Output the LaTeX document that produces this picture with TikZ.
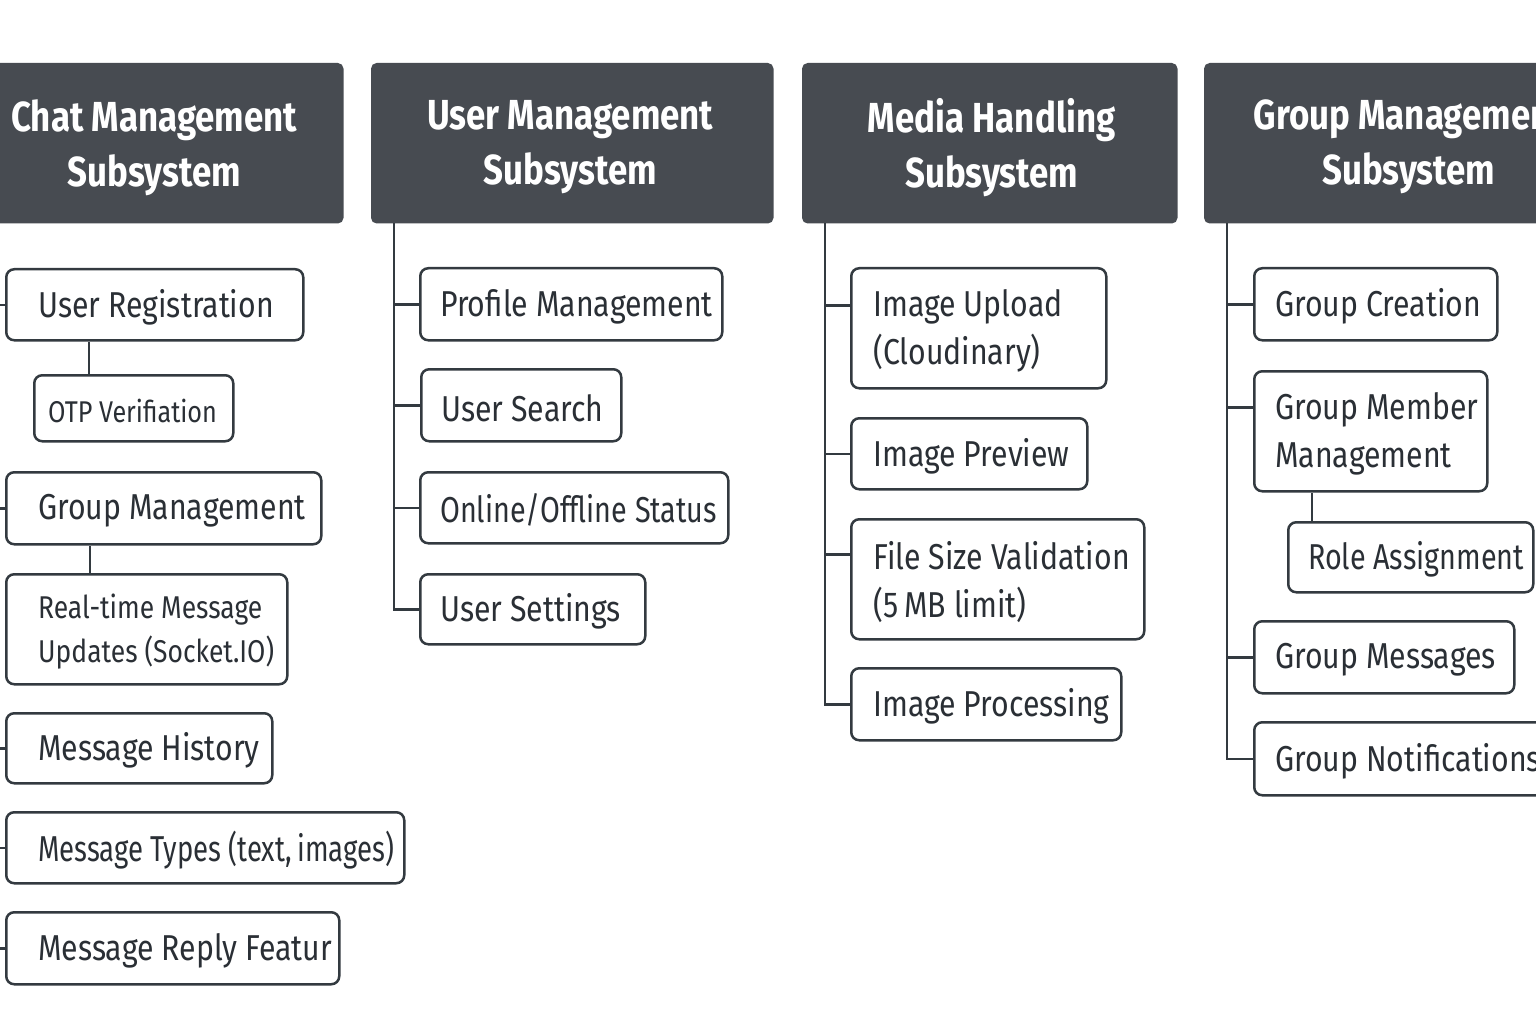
\documentclass[tikz,border=0pt]{standalone}
\usepackage{fontspec}
\setmainfont{Fira Sans}[FakeStretch=0.84]
\newfontfamily\hdrfont{Fira Sans}[FakeStretch=0.83]
\definecolor{hdr}{RGB}{71,75,81}
\definecolor{edge}{RGB}{51,58,64}
\definecolor{ink}{RGB}{42,47,53}
\tikzset{
  hdrbox/.style={draw=hdr, fill=hdr, rounded corners=5pt, line width=1.5pt, inner sep=0pt},
  hdrtxt/.style={text=white, font=\hdrfont\bfseries\fontsize{42}{55}\selectfont, align=center, inner sep=0pt},
  itembox/.style={draw=edge, fill=white, rounded corners=8pt, line width=2.5pt, inner sep=0pt},
  itemtxt/.style={text=ink, align=left, inner sep=0pt},
  conn/.style={draw=edge, line width=2.5pt},
  big/.style={font=\fontsize{36}{48}\selectfont},
  small/.style={font=\fontsize{31.5}{44}\selectfont},
  tiny/.style={font=\fontsize{30}{40}\selectfont}
}
\newcommand\itm[8]{%
  \pgfmathsetmacro\myboxw{#4-#2}\pgfmathsetmacro\myboxh{#5-#3}%
  \node[itembox, anchor=north west, minimum width=\myboxw pt, minimum height=\myboxh pt] (#1) at (#2,#3) {};
  \node[itemtxt, #7, anchor=west] (#1t) at ([xshift=#6pt, yshift=-2.5pt]#1.west) {#8};
}
\newcommand\hdr[5]{% name, x1, width, xshift, text
  \node[hdrbox, anchor=north west, minimum width=#3pt, minimum height=159pt] (#1) at (#2,63) {};
  \node[hdrtxt] (#1t) at ([xshift=#4pt, yshift=-4pt]#1.center) {#5};
}
\begin{document}
\begin{tikzpicture}[x=1pt, y=-1pt]
\useasboundingbox (0,0) rectangle (1536,1024);
\clip (0,0) rectangle (1536,1024);
\fill[white] (0,0) rectangle (1536,1024);

% headers
\hdr{ch}{-35}{377}{0}{Chat Management\\Subsystem}
\hdr{uh}{371}{401}{-2}{User Management\\Subsystem}
\hdr{mh}{802}{374}{2}{Media Handling\\Subsystem}
\hdr{gh}{1204}{408}{0}{Group Management\\Subsystem}

% coordinates for trunks
\coordinate (ct) at ([xshift=23pt]ch.south west);
\coordinate (ut) at ([xshift=23pt]uh.south west);
\coordinate (mt0) at ([xshift=23pt]mh.south west);
\coordinate (gt) at ([xshift=23pt]gh.south west);

% chat items
\itm{ur}{5}{268}{302}{339}{33}{big}{User Registration}
\itm{otp}{33}{374}{232}{440}{15}{tiny}{OTP Verifiation}
\itm{gm}{5}{471}{320}{543}{33}{big}{Group Management}
\itm{rt}{5}{573}{286}{683}{33}{small}{Real-time Message\\Updates (Socket.IO)}
\itm{mhis}{5}{712}{271}{782}{33}{big}{Message History}
\itm{mty}{5}{811}{403}{882}{33}{big}{\scalebox{0.91}[1]{Message Types (text,\,images)}}
\itm{mre}{5}{911}{338}{983}{33}{big}{Message Reply Featur}

% user items
\itm{pm}{419}{267}{721}{339}{21}{big}{Profile Management}
\itm{usr}{420}{368}{620}{440}{21}{big}{User Search}
\itm{oo}{419}{471}{727}{542}{21}{big}{\scalebox{0.95}[1]{Online/Offline Status}}
\itm{ust}{419}{573}{644}{643}{21}{big}{User Settings}

% media items
\itm{iu}{850}{267}{1105}{387}{23}{big}{Image Upload\\(Cloudinary)}
\itm{ip}{850}{417}{1086}{488}{23}{big}{Image Preview}
\itm{fs}{850}{518}{1143}{638}{23}{big}{File Size Validation\\(5\,MB limit)}
\itm{ipr}{850}{667}{1120}{739}{23}{big}{Image Processing}

% group items
\itm{gc}{1253}{267}{1496}{339}{22}{big}{Group Creation}
\itm{gmm}{1253}{370}{1486}{490}{22}{big}{Group Member\\Management}
\itm{ra}{1287}{521}{1532}{591}{21}{big}{\scalebox{0.95}[1]{Role Assignment}}
\itm{gms}{1253}{620}{1513}{692}{22}{big}{Group Messages}
\itm{gn}{1253}{721}{1570}{794}{22}{big}{Group Notifications}

% trunk connectors
\foreach \c in {ur,gm,mhis,mty,mre} \draw[conn] (ct) |- (\c.west);
\foreach \c in {pm,usr,oo,ust} \draw[conn] (ut) |- (\c.west);
\draw[conn] (mt0) |- ([yshift=23pt]iu.west);
\draw[conn] (mt0) |- (ip.west);
\draw[conn] (mt0) |- ([yshift=25pt]fs.west);
\draw[conn] (mt0) |- (ipr.west);
\draw[conn] (gt) |- (gc.west);
\draw[conn] (gt) |- ([yshift=24pt]gmm.west);
\draw[conn] (gt) |- (gms.west);
\draw[conn] (gt) |- (gn.west);

% sub connectors
\coordinate (otpa) at ([xshift=56pt]otp.north west);
\draw[conn] (otpa) -- (otpa |- ur.south);
\coordinate (rta) at ([xshift=85pt]rt.north west);
\draw[conn] (rta) -- (rta |- gm.south);
\coordinate (raa) at ([xshift=25pt]ra.north west);
\draw[conn] (raa) -- (raa |- gmm.south);
\end{tikzpicture}
\end{document}
